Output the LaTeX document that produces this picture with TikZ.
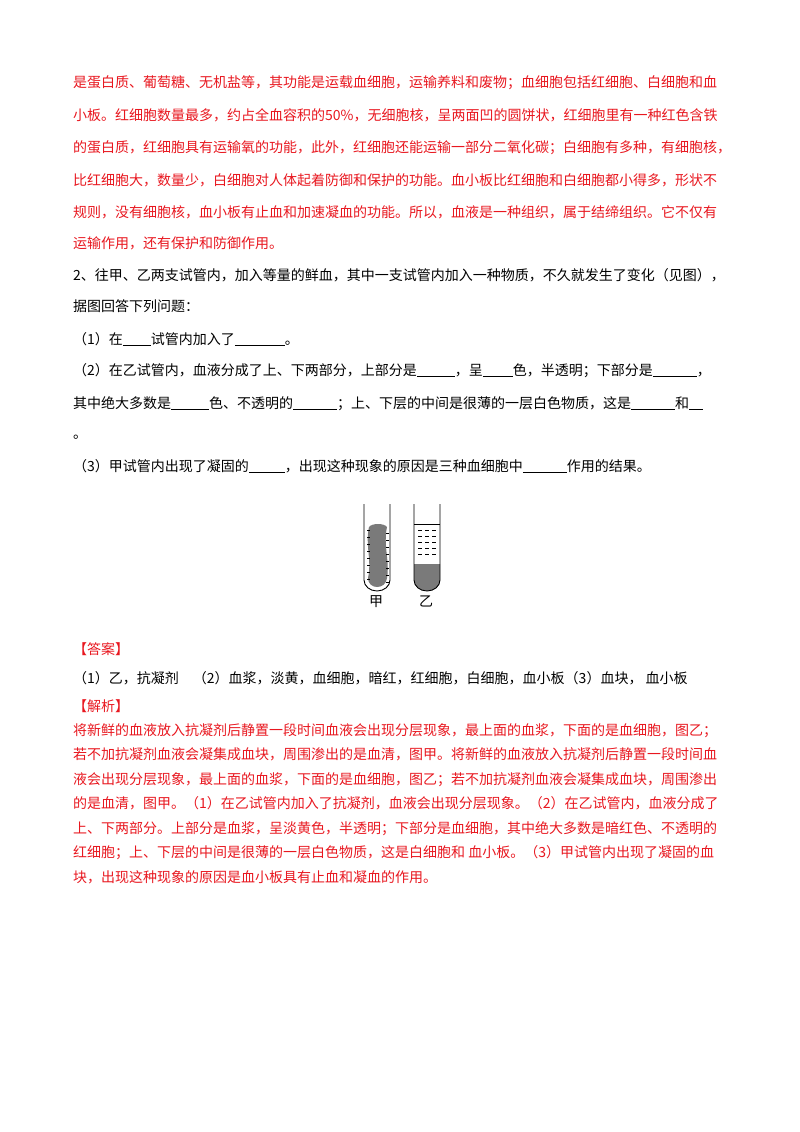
\documentclass[tikz,border=0pt]{standalone}
\usepackage{fontspec}
\setmainfont{Noto Sans CJK SC}
\definecolor{ansred}{HTML}{E8171F}
\definecolor{blood}{HTML}{7A7A7A}
\newcommand{\blank}[1]{\underline{\hspace{#1pt}}}
\tikzset{
  line/.style={anchor=base west, inner sep=0pt, font=\fontsize{14}{14}\selectfont},
  redline/.style={line, text=ansred},
  tube/.style={draw, line width=0.9pt},
}
\begin{document}
\begin{tikzpicture}[x=1pt,y=-1pt]
  \useasboundingbox (0,0) rectangle (800,1132);
  % explanation carried over
  \node[redline] (p1) at (73,88)  {是蛋白质、葡萄糖、无机盐等，其功能是运载血细胞，运输养料和废物；血细胞包括红细胞、白细胞和血};
  \node[redline] (p2) at (73,120) {小板。红细胞数量最多，约占全血容积的50\%，无细胞核，呈两面凹的圆饼状，红细胞里有一种红色含铁};
  \node[redline] (p3) at (73,152) {的蛋白质，红细胞具有运输氧的功能，此外，红细胞还能运输一部分二氧化碳；白细胞有多种，有细胞核，};
  \node[redline] (p4) at (73,185) {比红细胞大，数量少，白细胞对人体起着防御和保护的功能。血小板比红细胞和白细胞都小得多，形状不};
  \node[redline] (p5) at (73,217) {规则，没有细胞核，血小板有止血和加速凝血的功能。所以，血液是一种组织，属于结缔组织。它不仅有};
  \node[redline] (p6) at (73,248) {运输作用，还有保护和防御作用。};
  % question
  \node[line] (q1) at (73,280) {2、往甲、乙两支试管内，加入等量的鲜血，其中一支试管内加入一种物质，不久就发生了变化（见图），};
  \node[line] (q2) at (73,311) {据图回答下列问题：};
  \node[line] (q3) at (73,344) {（1）在\blank{28}试管内加入了\blank{50}。};
  \node[line] (q4) at (73,375) {（2）在乙试管内，血液分成了上、下两部分，上部分是\blank{38}，呈\blank{30}色，半透明；下部分是\blank{44}，};
  \node[line] (q5) at (73,408) {其中绝大多数是\blank{38}色、不透明的\blank{44}；上、下层的中间是很薄的一层白色物质，这是\blank{44}和\blank{14}};
  \node[line] (q6) at (73,438) {。};
  \node[line] (q7) at (73,471) {（3）甲试管内出现了凝固的\blank{36}，出现这种现象的原因是三种血细胞中\blank{44}作用的结果。};
  % tubes
  \fill[blood] (369,527) .. controls (372,523) and (384,523) .. (387,527)
     .. controls (383,545) and (390,562) .. (387,578) .. controls (386,590) and (368,590) .. (368,578)
     .. controls (372,560) and (365,545) .. cycle;
  \foreach \y in {530,537,...,580} {
    \draw[line width=0.8pt] (367,\y) -- (370,\y);
    \draw[line width=0.8pt] (386,\y+3) -- (389,\y+3);
  }
  \draw[tube] (364,504) -- (364,580) arc[start angle=180, end angle=0, x radius=13, y radius=11] -- (390,504);
  \fill[blood] (414,564) -- (414,580) arc[start angle=180, end angle=0, x radius=13, y radius=11] -- (440,564) -- cycle;
  \draw (414,524) -- (440,524);
  \foreach \y in {530,536,...,558} {
    \draw[line width=0.8pt] (418,\y) -- (422,\y);
    \draw[line width=0.8pt] (425,\y) -- (429,\y);
    \draw[line width=0.8pt] (432,\y) -- (436,\y);
  }
  \draw[tube] (414,504) -- (414,580) arc[start angle=180, end angle=0, x radius=13, y radius=11] -- (440,504);
  \node[line] (jia) at (369,606) {甲};
  \node[line] (yi) at (419,606) {乙};
  % answer
  \node[redline] (a1) at (73,654) {【答案】};
  \node[line] (a2) at (73,683) {（1）乙，抗凝剂\quad（2）血浆，淡黄，血细胞，暗红，红细胞，白细胞，血小板（3）血块，\ 血小板};
  \node[redline] (a3) at (73,711) {【解析】};
  \node[redline] (e1) at (73,735) {将新鲜的血液放入抗凝剂后静置一段时间血液会出现分层现象，最上面的血浆，下面的是血细胞，图乙；};
  \node[redline] (e2) at (73,759) {若不加抗凝剂血液会凝集成血块，周围渗出的是血清，图甲。将新鲜的血液放入抗凝剂后静置一段时间血};
  \node[redline] (e3) at (73,784) {液会出现分层现象，最上面的血浆，下面的是血细胞，图乙；若不加抗凝剂血液会凝集成血块，周围渗出};
  \node[redline] (e4) at (73,808) {的是血清，图甲。（1）在乙试管内加入了抗凝剂，血液会出现分层现象。（2）在乙试管内，血液分成了};
  \node[redline] (e5) at (73,833) {上、下两部分。上部分是血浆，呈淡黄色，半透明；下部分是血细胞，其中绝大多数是暗红色、不透明的};
  \node[redline] (e6) at (73,857) {红细胞；上、下层的中间是很薄的一层白色物质，这是白细胞和 血小板。（3）甲试管内出现了凝固的血};
  \node[redline] (e7) at (73,882) {块，出现这种现象的原因是血小板具有止血和凝血的作用。};
\end{tikzpicture}
\end{document}
